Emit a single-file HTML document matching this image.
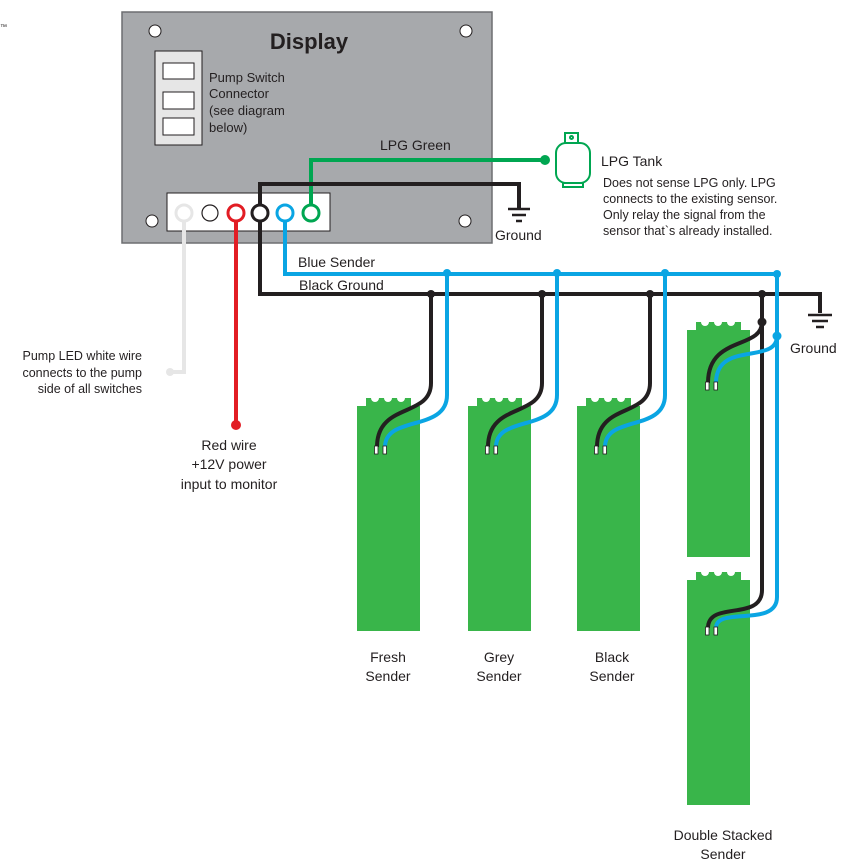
<!DOCTYPE html>
<html><head><meta charset="utf-8"><style>
html,body{margin:0;padding:0;background:#fff}
svg{display:block}
text{font-family:"Liberation Sans",Arial,sans-serif;fill:#231f20}
</style></head><body>
<svg width="848" height="867" viewBox="0 0 848 867" xmlns="http://www.w3.org/2000/svg">
<defs>
<g id="snd">
  <rect x="0" y="8" width="63" height="225" fill="#39b54a"/>
  <rect x="9" y="0" width="45" height="10" fill="#39b54a"/>
  <circle cx="18" cy="0" r="4" fill="#fff"/>
  <circle cx="31" cy="0" r="4" fill="#fff"/>
  <circle cx="44" cy="0" r="4" fill="#fff"/>
</g>
</defs>
<text x="0" y="29" font-size="7">™</text>
<!-- Display -->
<rect x="122" y="12" width="370" height="231" fill="#a7a9ac" stroke="#6d6e71" stroke-width="1.5"/>
<g fill="#fff" stroke="#231f20" stroke-width="1">
<circle cx="155" cy="31" r="6"/><circle cx="466" cy="31" r="6"/>
<circle cx="152" cy="221" r="6"/><circle cx="465" cy="221" r="6"/>
</g>
<text x="309" y="49" font-size="22" font-weight="bold" text-anchor="middle">Display</text>
<rect x="155" y="51" width="47" height="94" fill="#e6e6e6" stroke="#231f20" stroke-width="1"/>
<g fill="#fff" stroke="#231f20" stroke-width="1">
<rect x="163" y="63" width="31" height="16"/><rect x="163" y="92" width="31" height="17"/><rect x="163" y="118" width="31" height="17"/>
</g>
<g font-size="13"><text x="209" y="82">Pump Switch</text><text x="209" y="98">Connector</text><text x="209" y="115">(see diagram</text><text x="209" y="132">below)</text></g>
<rect x="167" y="193" width="163" height="38" fill="#fff" stroke="#231f20" stroke-width="1"/>
<text x="380" y="150" font-size="14">LPG Green</text>
<!-- senders (drawn first so wires are on top) -->
<use href="#snd" x="357" y="398"/>
<use href="#snd" x="468" y="398"/>
<use href="#snd" x="577" y="398"/>
<rect x="687" y="330" width="63" height="227" fill="#39b54a"/><rect x="696" y="322" width="45" height="10" fill="#39b54a"/>
<g fill="#fff"><circle cx="705" cy="322" r="4"/><circle cx="718" cy="322" r="4"/><circle cx="731" cy="322" r="4"/></g>
<rect x="687" y="580" width="63" height="225" fill="#39b54a"/><rect x="696" y="572" width="45" height="10" fill="#39b54a"/>
<g fill="#fff"><circle cx="705" cy="572" r="4"/><circle cx="718" cy="572" r="4"/><circle cx="731" cy="572" r="4"/></g>
<!-- wires -->
<g fill="none" stroke-width="4">
<path d="M311,205 V160 H545" stroke="#00a651"/>
<path d="M260,205 V184 H519 V208" stroke="#231f20"/>
<path d="M184,220 V372 H170" stroke="#e6e6e6"/>
<path d="M236,220 V424" stroke="#e21d24"/>
<path d="M285,220 V274 H777" stroke="#0aa5e3"/>
<path d="M260,220 V294 H820 V313" stroke="#231f20"/>
<path d="M431,294 V383 C431,418 377,402 377,447" stroke="#231f20"/>
<path d="M447,272 V395 C447,432 385,415 385,447" stroke="#0aa5e3"/>
<path d="M542,294 V383 C542,418 488,402 488,447" stroke="#231f20"/>
<path d="M557,272 V395 C557,432 496,415 496,447" stroke="#0aa5e3"/>
<path d="M650,294 V383 C650,418 597,402 597,447" stroke="#231f20"/>
<path d="M665,272 V395 C665,432 605,415 605,447" stroke="#0aa5e3"/>
<path d="M762,294 V590 C762,622 708,600 708,628" stroke="#231f20"/>
<path d="M777,272 V597 C777,628 716,606 716,628" stroke="#0aa5e3"/>
<path d="M762,322 C762,350 708,335 708,383" stroke="#231f20"/>
<path d="M777,336 C777,365 716,340 716,383" stroke="#0aa5e3"/>
</g>
<!-- terminals -->
<g fill="#fff" stroke="#231f20" stroke-width="0.8">
<rect x="374.5" y="446" width="3.5" height="8"/><rect x="383" y="446" width="3.5" height="8"/>
<rect x="485.5" y="446" width="3.5" height="8"/><rect x="494" y="446" width="3.5" height="8"/>
<rect x="594.5" y="446" width="3.5" height="8"/><rect x="603" y="446" width="3.5" height="8"/>
<rect x="705.5" y="382" width="3.5" height="8"/><rect x="714" y="382" width="3.5" height="8"/>
<rect x="705.5" y="627" width="3.5" height="8"/><rect x="714" y="627" width="3.5" height="8"/>
</g>
<!-- dots -->
<g fill="#231f20"><circle cx="431" cy="294" r="4"/><circle cx="542" cy="294" r="4"/><circle cx="650" cy="294" r="4"/><circle cx="762" cy="294" r="4"/><circle cx="762" cy="322" r="4.5"/></g>
<g fill="#0aa5e3"><circle cx="447" cy="273" r="4"/><circle cx="557" cy="273" r="4"/><circle cx="665" cy="273" r="4"/><circle cx="777" cy="274" r="4"/><circle cx="777" cy="336" r="4.5"/></g>
<circle cx="545" cy="160" r="5" fill="#00a651"/>
<circle cx="170" cy="372" r="4" fill="#e6e6e6"/>
<circle cx="236" cy="425" r="5" fill="#e21d24"/>
<!-- terminal circles -->
<g fill="#fff" stroke-width="3">
<circle cx="184" cy="213" r="8" stroke="#e6e6e6"/>
<circle cx="210" cy="213" r="8" stroke="#231f20" stroke-width="1.2"/>
<circle cx="236" cy="213" r="8" stroke="#e21d24"/>
<circle cx="260" cy="213" r="8" stroke="#231f20"/>
<circle cx="285" cy="213" r="8" stroke="#0aa5e3"/>
<circle cx="311" cy="213" r="8" stroke="#00a651"/>
</g>
<!-- grounds -->
<g stroke="#231f20" stroke-width="2.5">
<line x1="508" y1="209" x2="530" y2="209"/><line x1="512" y1="215" x2="526" y2="215"/><line x1="516" y1="221" x2="522" y2="221"/>
<line x1="808" y1="315" x2="832" y2="315"/><line x1="812" y1="321" x2="828" y2="321"/><line x1="816" y1="327" x2="824" y2="327"/>
</g>
<text x="495" y="240" font-size="14">Ground</text>
<text x="790" y="353" font-size="14">Ground</text>
<!-- tank -->
<g fill="none" stroke="#00a651" stroke-width="2">
<rect x="565" y="133" width="13" height="10"/><circle cx="571.5" cy="137.5" r="1.5"/>
<rect x="556" y="143" width="34" height="40" rx="10"/>
<rect x="563" y="183" width="20" height="4"/>
</g>
<text x="601" y="166" font-size="14">LPG Tank</text>
<g font-size="12.5"><text x="603" y="187">Does not sense LPG only. LPG</text><text x="603" y="203">connects to the existing sensor.</text><text x="603" y="219">Only relay the signal from the</text><text x="603" y="235">sensor that`s already installed.</text></g>
<text x="298" y="267" font-size="14">Blue Sender</text>
<text x="299" y="290" font-size="14">Black Ground</text>
<g font-size="12.5" text-anchor="end"><text x="142" y="360">Pump LED white wire</text><text x="142" y="377">connects to the pump</text><text x="142" y="393">side of all switches</text></g>
<g font-size="14" text-anchor="middle"><text x="229" y="450">Red wire</text><text x="229" y="469">+12V power</text><text x="229" y="489">input to monitor</text></g>
<g font-size="14" text-anchor="middle">
<text x="388" y="662">Fresh</text><text x="388" y="681">Sender</text>
<text x="499" y="662">Grey</text><text x="499" y="681">Sender</text>
<text x="612" y="662">Black</text><text x="612" y="681">Sender</text>
<text x="723" y="840">Double Stacked</text><text x="723" y="859">Sender</text>
</g>
</svg>
</body></html>
